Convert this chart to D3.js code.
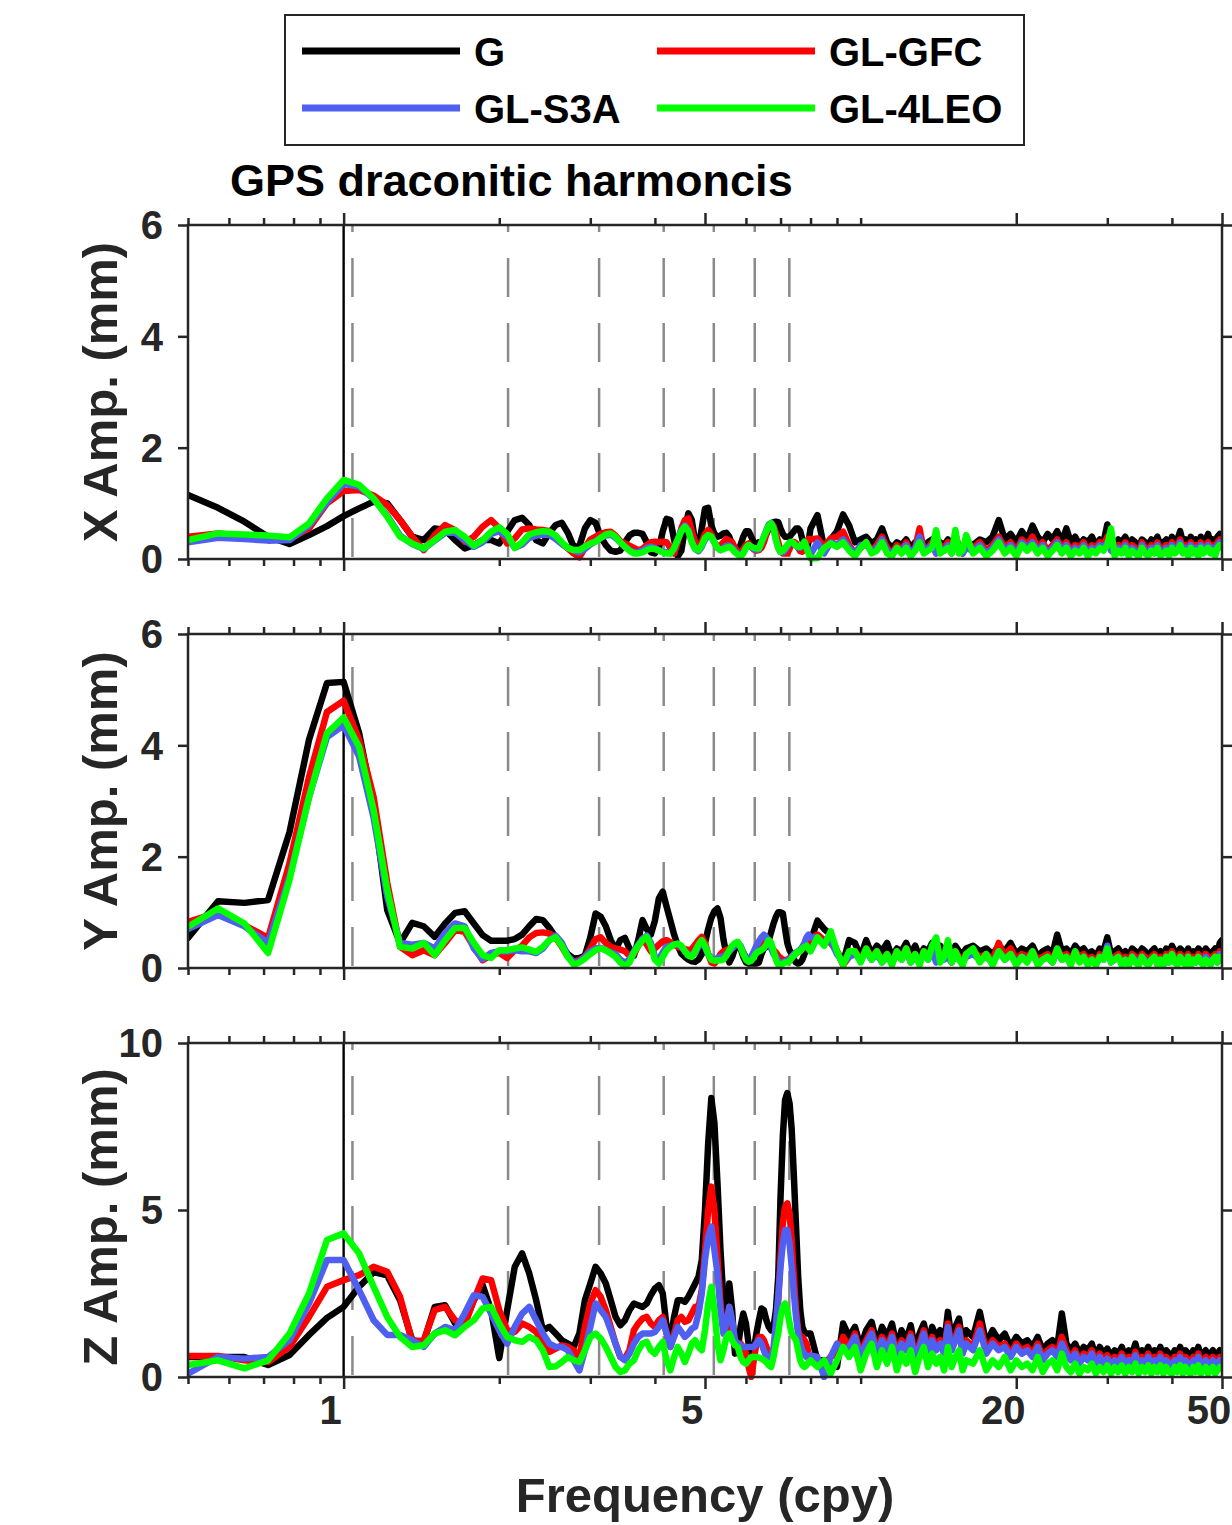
<!DOCTYPE html>
<html>
<head>
<meta charset="utf-8">
<script src="https://cdnjs.cloudflare.com/ajax/libs/d3/7.8.5/d3.min.js"></script>
<style>
  body { margin: 0; background: #fff; }
  text { font-family: "Liberation Sans", Arial, sans-serif; font-weight: bold; }
</style>
</head>
<body>
<div id="chart"></div>
<script>
// frequency grid in cpy: 1/14 cpy steps up to 8 cpy, then 0.25 to 16, then 0.5 to 50
const freqLow = d3.range(7, 113).map(k => k / 14);
const freqHigh = d3.range(8.25, 16.01, 0.25).concat(d3.range(16.5, 50.01, 0.5));
const freq = freqLow.concat(freqHigh);

// GPS draconitic harmonics (cpy)
const draconitic = [1.04, 2.08, 3.12, 4.16, 5.20, 6.24, 7.28];

const seriesNames = ["G", "GL-GFC", "GL-S3A", "GL-4LEO"];
const seriesColors = ["#000000", "#ff0000", "#4f5ff0", "#00ff00"];

const majorTicks = [1, 5, 20, 50];
const minorTicks = [0.5, 0.6, 0.7, 0.8, 0.9, 2, 3, 4, 6, 7, 8, 9, 10, 30, 40];

// ---- X amplitude (mm) ----
const xG = [
  1.15,0.92,0.67,0.4,0.27,0.43,0.59,0.77,0.91,1.03,
  1.0,0.7,0.4,0.34,0.55,0.52,0.34,0.19,0.25,0.34,
  0.34,0.28,0.49,0.7,0.74,0.61,0.34,0.28,0.47,0.61,
  0.65,0.47,0.22,0.23,0.55,0.7,0.65,0.4,0.25,0.15,
  0.13,0.15,0.3,0.42,0.47,0.47,0.45,0.3,0.12,0.1,
  0.2,0.5,0.72,0.7,0.35,0.05,0.15,0.55,0.82,0.7,
  0.3,0.2,0.55,0.9,0.92,0.6,0.45,0.4,0.42,0.46,
  0.47,0.4,0.25,0.15,0.13,0.25,0.4,0.5,0.5,0.4,
  0.3,0.28,0.3,0.3,0.35,0.45,0.55,0.62,0.66,0.67,
  0.66,0.55,0.45,0.4,0.4,0.4,0.45,0.5,0.55,0.55,
  0.5,0.35,0.22,0.16,0.3,0.55,
  0.79,0.2,0.35,0.5,0.8,0.6,0.3,0.35,0.4,0.28,
  0.35,0.55,0.3,0.2,0.3,0.25,0.35,0.2,0.3,0.25,
  0.15,0.3,0.35,0.2,0.3,0.25,0.35,0.2,0.3,0.25,
  0.2,0.3,
  0.25,0.35,0.3,0.4,0.7,0.35,0.45,0.3,0.5,0.35,
  0.6,0.4,0.3,0.45,0.35,0.5,0.3,0.55,0.3,0.4,
  0.25,0.35,0.3,0.4,0.25,0.35,0.3,0.62,0.3,0.25,
  0.35,0.3,0.4,0.25,0.35,0.3,0.2,0.35,0.3,0.25,
  0.35,0.3,0.4,0.25,0.3,0.35,0.25,0.4,0.3,0.35,
  0.5,0.3,0.35,0.25,0.4,0.3,0.35,0.25,0.4,0.3,
  0.35,0.45,0.3,0.35,0.25,0.4,0.45,0.4
];
const xR = [
  0.4,0.46,0.42,0.4,0.36,0.55,1.0,1.22,1.24,1.14,
  0.97,0.7,0.4,0.16,0.43,0.61,0.52,0.31,0.4,0.58,
  0.7,0.55,0.28,0.37,0.53,0.55,0.53,0.52,0.5,0.38,
  0.28,0.19,0.1,0.03,0.2,0.35,0.4,0.45,0.48,0.49,
  0.42,0.32,0.28,0.24,0.2,0.16,0.18,0.25,0.3,0.31,
  0.3,0.31,0.3,0.2,0.1,0.3,0.55,0.7,0.73,0.5,
  0.3,0.22,0.3,0.45,0.52,0.45,0.3,0.22,0.25,0.3,
  0.36,0.33,0.3,0.2,0.12,0.1,0.18,0.25,0.28,0.22,
  0.17,0.15,0.16,0.2,0.3,0.45,0.6,0.64,0.6,0.45,
  0.3,0.15,0.1,0.1,0.1,0.18,0.28,0.31,0.28,0.2,
  0.14,0.13,0.2,0.3,0.36,0.35,
  0.37,0.22,0.37,0.4,0.49,0.25,0.1,0.2,0.3,0.15,
  0.25,0.4,0.2,0.1,0.25,0.15,0.3,0.1,0.2,0.55,
  0.15,0.2,0.3,0.1,0.25,0.2,0.3,0.15,0.45,0.2,
  0.1,0.25,
  0.2,0.3,0.15,0.25,0.4,0.2,0.3,0.15,0.35,0.25,
  0.4,0.2,0.3,0.15,0.25,0.35,0.2,0.3,0.15,0.25,
  0.2,0.3,0.15,0.25,0.2,0.3,0.25,0.4,0.2,0.15,
  0.25,0.2,0.3,0.15,0.25,0.2,0.1,0.3,0.2,0.15,
  0.25,0.2,0.3,0.15,0.2,0.25,0.15,0.3,0.2,0.25,
  0.35,0.2,0.25,0.15,0.3,0.2,0.25,0.15,0.3,0.2,
  0.25,0.3,0.2,0.25,0.15,0.3,0.35,0.3
];
const xB = [
  0.3,0.38,0.36,0.33,0.34,0.6,1.02,1.35,1.3,1.08,
  0.78,0.42,0.27,0.18,0.33,0.47,0.47,0.34,0.22,0.3,
  0.45,0.5,0.4,0.2,0.26,0.38,0.42,0.44,0.43,0.36,
  0.27,0.2,0.15,0.12,0.18,0.26,0.32,0.38,0.42,0.44,
  0.38,0.3,0.22,0.16,0.12,0.12,0.15,0.2,0.22,0.2,
  0.16,0.13,0.12,0.1,0.18,0.35,0.52,0.6,0.52,0.32,
  0.18,0.14,0.22,0.35,0.42,0.4,0.3,0.2,0.16,0.2,
  0.24,0.24,0.2,0.14,0.1,0.06,0.12,0.2,0.25,0.22,
  0.18,0.16,0.18,0.28,0.4,0.52,0.62,0.65,0.55,0.35,
  0.2,0.12,0.12,0.16,0.22,0.28,0.3,0.28,0.24,0.2,
  0.2,0.24,0.3,0.22,0.12,0.08,
  0.3,0.1,0.3,0.25,0.35,0.2,0.1,0.25,0.25,0.15,
  0.2,0.35,0.15,0.1,0.2,0.15,0.25,0.1,0.2,0.4,
  0.15,0.2,0.25,0.1,0.2,0.15,0.25,0.1,0.35,0.15,
  0.1,0.2,
  0.15,0.25,0.1,0.2,0.35,0.15,0.25,0.1,0.3,0.2,
  0.3,0.15,0.25,0.1,0.2,0.3,0.15,0.25,0.1,0.2,
  0.15,0.25,0.1,0.2,0.15,0.25,0.2,0.3,0.15,0.1,
  0.2,0.15,0.25,0.1,0.2,0.15,0.05,0.25,0.15,0.1,
  0.2,0.15,0.25,0.1,0.15,0.2,0.1,0.25,0.15,0.2,
  0.3,0.15,0.2,0.1,0.25,0.15,0.2,0.1,0.25,0.15,
  0.2,0.25,0.15,0.2,0.1,0.25,0.3,0.25
];
const xL = [
  0.34,0.46,0.44,0.42,0.39,0.64,1.09,1.42,1.33,1.09,
  0.76,0.4,0.28,0.19,0.34,0.49,0.52,0.4,0.24,0.34,
  0.49,0.57,0.45,0.2,0.3,0.44,0.48,0.5,0.49,0.42,
  0.3,0.2,0.16,0.16,0.22,0.28,0.31,0.38,0.44,0.46,
  0.4,0.3,0.22,0.15,0.1,0.1,0.12,0.16,0.19,0.18,
  0.15,0.12,0.1,0.1,0.2,0.35,0.5,0.58,0.5,0.3,
  0.18,0.16,0.25,0.38,0.43,0.4,0.3,0.2,0.16,0.18,
  0.2,0.22,0.18,0.12,0.08,0.04,0.1,0.2,0.25,0.22,
  0.2,0.19,0.19,0.3,0.4,0.5,0.6,0.64,0.55,0.35,
  0.2,0.13,0.15,0.2,0.25,0.3,0.31,0.28,0.24,0.22,
  0.22,0.26,0.31,0.2,0.1,0.01,
  0.02,0.2,0.28,0.22,0.3,0.15,0.05,0.2,0.3,0.1,
  0.15,0.3,0.1,0.05,0.2,0.1,0.2,0.05,0.15,0.3,
  0.1,0.15,0.2,0.52,0.1,0.15,0.2,0.1,0.52,0.1,
  0.15,0.43,
  0.1,0.2,0.05,0.15,0.3,0.1,0.2,0.05,0.25,0.15,
  0.25,0.1,0.2,0.05,0.15,0.25,0.1,0.2,0.05,0.15,
  0.1,0.2,0.05,0.15,0.1,0.2,0.15,0.25,0.55,0.05,
  0.15,0.1,0.2,0.05,0.15,0.1,0.05,0.2,0.1,0.05,
  0.15,0.1,0.2,0.05,0.1,0.15,0.05,0.2,0.1,0.15,
  0.25,0.1,0.15,0.05,0.2,0.1,0.15,0.05,0.2,0.1,
  0.15,0.2,0.1,0.15,0.05,0.2,0.25,0.2
];

// ---- Y amplitude (mm) ----
const yG = [
  0.54,1.2,1.17,1.22,2.44,4.1,5.12,5.14,4.22,2.9,
  1.04,0.45,0.81,0.75,0.56,0.8,0.99,1.02,0.8,0.59,
  0.49,0.49,0.49,0.52,0.6,0.75,0.88,0.86,0.72,0.55,
  0.4,0.25,0.17,0.18,0.22,0.55,0.98,0.92,0.75,0.5,
  0.33,0.5,0.54,0.35,0.22,0.5,0.86,0.7,0.6,0.85,
  1.25,1.37,1.1,0.85,0.6,0.4,0.26,0.2,0.15,0.12,
  0.11,0.15,0.25,0.45,0.7,0.9,1.02,1.07,0.9,0.51,
  0.25,0.1,0.2,0.35,0.42,0.35,0.2,0.1,0.08,0.08,
  0.08,0.08,0.1,0.25,0.35,0.38,0.5,0.65,0.8,0.92,
  1.0,1.0,0.98,0.7,0.45,0.32,0.25,0.15,0.1,0.08,
  0.1,0.15,0.25,0.35,0.42,0.48,
  0.85,0.7,0.6,0.3,0.1,0.5,0.45,0.2,0.5,0.25,
  0.4,0.3,0.45,0.2,0.35,0.3,0.45,0.25,0.4,0.2,
  0.35,0.3,0.45,0.25,0.4,0.3,0.35,0.2,0.4,0.3,
  0.25,0.35,
  0.4,0.3,0.35,0.25,0.4,0.3,0.45,0.25,0.35,0.3,
  0.4,0.2,0.3,0.35,0.25,0.6,0.3,0.35,0.25,0.4,
  0.3,0.35,0.25,0.3,0.2,0.35,0.3,0.55,0.25,0.3,
  0.35,0.25,0.3,0.2,0.35,0.3,0.25,0.35,0.3,0.2,
  0.3,0.35,0.25,0.3,0.2,0.35,0.25,0.4,0.3,0.25,
  0.35,0.3,0.25,0.35,0.2,0.3,0.25,0.35,0.3,0.25,
  0.35,0.3,0.25,0.3,0.35,0.25,0.45,0.5
];
const yR = [
  0.83,1.0,0.77,0.54,1.88,3.43,4.6,4.8,4.1,3.07,
  1.53,0.38,0.23,0.32,0.23,0.45,0.68,0.65,0.38,0.14,
  0.23,0.27,0.18,0.32,0.4,0.55,0.63,0.64,0.62,0.55,
  0.38,0.2,0.11,0.14,0.2,0.35,0.52,0.55,0.45,0.38,
  0.35,0.33,0.3,0.22,0.25,0.4,0.53,0.42,0.3,0.35,
  0.42,0.48,0.5,0.46,0.42,0.38,0.36,0.34,0.32,0.34,
  0.42,0.5,0.56,0.45,0.25,0.1,0.08,0.15,0.25,0.3,
  0.32,0.35,0.38,0.41,0.43,0.38,0.28,0.2,0.15,0.18,
  0.28,0.36,0.4,0.45,0.5,0.55,0.5,0.4,0.32,0.28,
  0.22,0.18,0.15,0.14,0.15,0.18,0.2,0.24,0.26,0.3,
  0.33,0.36,0.4,0.43,0.48,0.52,
  0.6,0.5,0.45,0.3,0.05,0.2,0.3,0.15,0.35,0.2,
  0.3,0.15,0.25,0.1,0.3,0.2,0.35,0.15,0.25,0.1,
  0.3,0.2,0.35,0.15,0.3,0.2,0.25,0.1,0.3,0.2,
  0.15,0.25,
  0.3,0.2,0.25,0.15,0.45,0.2,0.35,0.15,0.25,0.2,
  0.3,0.15,0.2,0.25,0.15,0.35,0.2,0.25,0.15,0.3,
  0.2,0.25,0.15,0.2,0.1,0.25,0.2,0.3,0.15,0.2,
  0.25,0.15,0.2,0.1,0.25,0.2,0.15,0.25,0.2,0.1,
  0.2,0.25,0.15,0.2,0.1,0.25,0.15,0.3,0.2,0.15,
  0.25,0.2,0.15,0.25,0.1,0.2,0.15,0.25,0.2,0.15,
  0.25,0.2,0.15,0.2,0.25,0.15,0.3,0.25
];
const yB = [
  0.7,0.95,0.75,0.45,1.64,3.07,4.15,4.36,3.8,2.7,
  1.28,0.45,0.42,0.45,0.35,0.63,0.8,0.75,0.35,0.16,
  0.27,0.3,0.3,0.32,0.3,0.3,0.27,0.35,0.5,0.58,
  0.45,0.22,0.1,0.12,0.2,0.3,0.35,0.36,0.32,0.28,
  0.25,0.15,0.1,0.15,0.3,0.42,0.52,0.58,0.45,0.2,
  0.15,0.28,0.38,0.4,0.42,0.42,0.38,0.3,0.25,0.22,
  0.28,0.38,0.45,0.38,0.25,0.18,0.15,0.18,0.2,0.2,
  0.25,0.3,0.35,0.4,0.45,0.4,0.28,0.18,0.15,0.2,
  0.3,0.4,0.48,0.55,0.6,0.55,0.45,0.35,0.25,0.2,
  0.12,0.1,0.1,0.12,0.14,0.16,0.2,0.25,0.28,0.3,
  0.32,0.38,0.45,0.55,0.6,0.55,
  0.55,0.45,0.5,0.25,0.1,0.2,0.25,0.15,0.3,0.15,
  0.25,0.1,0.2,0.1,0.25,0.15,0.3,0.1,0.2,0.1,
  0.25,0.15,0.3,0.1,0.25,0.15,0.2,0.1,0.25,0.15,
  0.1,0.2,
  0.25,0.15,0.2,0.1,0.3,0.15,0.25,0.1,0.2,0.15,
  0.25,0.1,0.15,0.2,0.1,0.3,0.15,0.2,0.1,0.25,
  0.15,0.2,0.1,0.15,0.05,0.2,0.15,0.4,0.1,0.15,
  0.2,0.1,0.15,0.05,0.2,0.15,0.1,0.2,0.15,0.05,
  0.15,0.2,0.1,0.15,0.05,0.2,0.1,0.25,0.15,0.1,
  0.2,0.15,0.1,0.2,0.05,0.15,0.1,0.2,0.15,0.1,
  0.2,0.15,0.1,0.15,0.2,0.1,0.25,0.2
];
const yL = [
  0.74,1.07,0.8,0.27,1.58,3.07,4.22,4.5,3.97,2.84,
  1.4,0.38,0.35,0.45,0.23,0.5,0.72,0.72,0.45,0.23,
  0.18,0.32,0.32,0.35,0.37,0.33,0.29,0.38,0.5,0.55,
  0.4,0.2,0.06,0.1,0.17,0.25,0.32,0.35,0.32,0.26,
  0.2,0.1,0.03,0.1,0.28,0.4,0.5,0.56,0.4,0.15,
  0.08,0.2,0.32,0.38,0.42,0.44,0.4,0.3,0.22,0.2,
  0.3,0.42,0.5,0.4,0.25,0.15,0.13,0.14,0.14,0.15,
  0.22,0.32,0.4,0.45,0.47,0.38,0.25,0.15,0.11,0.13,
  0.2,0.27,0.3,0.32,0.36,0.42,0.5,0.45,0.3,0.15,
  0.06,0.05,0.08,0.1,0.1,0.12,0.18,0.22,0.26,0.3,
  0.3,0.35,0.38,0.4,0.35,0.3,
  0.55,0.4,0.66,0.3,0.05,0.3,0.3,0.1,0.35,0.15,
  0.3,0.1,0.25,0.05,0.3,0.15,0.35,0.1,0.25,0.05,
  0.3,0.15,0.4,0.55,0.1,0.2,0.5,0.1,0.3,0.15,
  0.05,0.25,
  0.35,0.1,0.25,0.05,0.3,0.15,0.25,0.05,0.2,0.1,
  0.3,0.05,0.15,0.2,0.1,0.35,0.15,0.2,0.05,0.3,
  0.1,0.2,0.05,0.15,0.05,0.2,0.15,0.35,0.1,0.15,
  0.2,0.05,0.15,0.05,0.2,0.1,0.05,0.2,0.1,0.05,
  0.15,0.2,0.05,0.15,0.05,0.2,0.1,0.25,0.1,0.05,
  0.2,0.1,0.05,0.2,0.05,0.15,0.1,0.2,0.1,0.05,
  0.15,0.1,0.05,0.15,0.2,0.1,0.2,0.15
];

// ---- Z amplitude (mm) ----
const zG = [
  0.6,0.6,0.6,0.36,0.66,1.26,1.77,2.1,2.7,3.14,
  3.04,2.3,1.1,1.05,2.1,2.15,1.6,1.6,2.3,2.75,
  2.0,0.57,2.0,3.3,3.7,3.1,2.3,1.4,1.5,1.3,
  1.1,1.0,0.9,1.3,2.3,2.8,3.3,3.1,2.8,2.3,
  1.8,1.55,1.7,2.0,2.2,2.15,2.1,2.2,2.45,2.65,
  2.75,2.5,1.5,1.1,1.8,2.3,2.3,2.25,2.4,2.6,
  2.8,3.0,3.5,5.0,7.0,8.35,7.6,5.8,3.8,2.3,
  1.5,2.8,2.0,0.7,0.8,1.5,1.9,1.6,1.0,0.7,
  0.8,1.3,1.7,2.05,2.0,1.7,1.5,1.4,1.5,2.0,
  3.0,5.4,7.2,8.3,8.5,8.2,7.4,6.0,4.5,3.0,
  2.0,1.5,1.35,1.3,1.3,1.3,
  0.5,0.5,0.35,0.3,1.6,1.2,1.5,0.9,1.4,1.65,
  1.0,1.5,1.2,1.6,0.9,1.4,1.1,1.55,0.8,1.3,
  1.6,1.0,1.5,1.2,1.4,1.0,1.95,1.1,1.5,1.75,
  1.0,1.4,
  1.2,1.95,1.0,1.4,1.1,1.3,0.9,1.2,1.0,1.1,
  0.9,1.2,0.8,1.0,1.1,0.9,1.9,1.0,0.8,1.0,
  0.7,0.9,0.8,1.0,0.6,0.9,0.7,0.85,0.6,0.8,
  0.7,0.9,0.6,0.8,0.7,1.0,0.6,0.8,0.7,0.9,
  0.6,0.8,0.7,0.9,0.6,0.8,0.7,0.6,0.8,0.7,
  0.9,0.6,0.8,0.7,0.6,0.8,0.7,0.9,0.6,0.7,
  0.8,0.6,0.7,0.8,0.6,0.7,0.8,0.75
];
const zR = [
  0.63,0.63,0.5,0.45,0.9,1.8,2.7,2.9,3.05,3.3,
  3.15,2.4,1.05,1.1,2.0,2.1,1.7,1.55,2.3,2.95,
  2.9,2.0,1.4,1.35,1.6,1.5,1.35,1.0,0.75,0.85,
  0.95,0.9,0.8,0.6,1.5,2.2,2.6,2.4,2.0,1.5,
  1.0,0.6,0.55,0.8,1.4,1.6,1.75,1.8,1.6,1.5,
  1.7,1.8,1.3,0.9,1.3,1.7,1.8,1.65,1.7,1.9,
  2.1,2.1,2.6,3.8,5.0,5.7,5.0,3.6,2.2,1.4,
  1.3,2.1,1.6,1.0,1.0,1.0,0.9,0.7,0.3,0.0,
  0.5,1.0,1.2,1.2,1.1,0.9,0.7,0.6,0.7,1.3,
  2.3,3.6,4.6,5.1,5.2,4.9,4.1,3.0,2.0,1.4,
  1.2,1.2,1.1,1.0,0.7,0.5,
  0.5,0.4,0.6,0.7,1.2,0.9,1.3,0.7,1.1,1.4,
  0.8,1.2,0.9,1.3,0.7,1.1,0.9,1.3,0.6,1.0,
  1.4,0.8,1.2,0.9,1.1,0.8,1.6,0.9,1.2,1.5,
  0.8,1.1,
  0.9,1.6,0.8,1.1,0.9,1.0,0.7,1.0,0.8,0.9,
  0.7,1.0,0.6,0.8,0.9,0.7,1.2,0.8,0.6,0.8,
  0.5,0.7,0.6,0.8,0.45,0.7,0.5,0.65,0.45,0.6,
  0.5,0.7,0.45,0.6,0.5,0.75,0.45,0.6,0.5,0.7,
  0.45,0.6,0.5,0.7,0.45,0.6,0.5,0.45,0.6,0.5,
  0.7,0.45,0.6,0.5,0.4,0.6,0.5,0.7,0.45,0.5,
  0.6,0.45,0.5,0.6,0.4,0.5,0.6,0.55
];
const zB = [
  0.1,0.6,0.55,0.6,1.1,2.2,3.5,3.5,2.6,1.7,
  1.26,1.26,1.1,0.9,1.3,1.5,1.4,1.9,2.45,2.4,
  1.9,1.4,1.0,1.5,1.9,2.1,1.7,1.3,1.0,0.9,
  0.9,0.8,0.5,0.2,0.8,1.5,2.2,2.0,1.8,1.4,
  1.0,0.6,0.5,0.7,1.0,1.2,1.3,1.3,1.3,1.35,
  1.5,1.7,1.3,0.9,1.2,1.5,1.35,1.2,1.3,1.45,
  1.5,1.9,2.5,3.5,4.2,4.5,3.8,3.1,2.0,1.3,
  1.6,2.1,1.7,1.1,1.0,0.95,0.9,0.9,0.9,0.9,
  0.9,1.0,1.1,1.0,0.8,0.6,0.6,0.6,0.9,1.6,
  2.4,3.3,4.0,4.4,4.4,4.0,3.3,2.5,1.8,1.3,
  1.0,0.8,0.7,0.6,0.6,0.65,
  0.6,0.0,0.6,1.0,0.8,0.9,1.2,0.6,1.0,1.3,
  0.7,1.1,0.8,1.2,0.6,1.0,0.8,1.2,0.5,0.9,
  1.3,0.7,1.1,0.8,1.0,0.7,1.5,0.8,1.1,1.4,
  0.7,1.0,
  0.8,1.4,0.7,1.0,0.8,0.9,0.6,0.9,0.7,0.8,
  0.6,0.9,0.5,0.7,0.8,0.6,1.0,0.7,0.5,0.7,
  0.4,0.6,0.5,0.7,0.35,0.6,0.4,0.55,0.35,0.5,
  0.4,0.6,0.35,0.5,0.4,0.65,0.35,0.5,0.4,0.6,
  0.35,0.5,0.4,0.6,0.35,0.5,0.4,0.35,0.5,0.4,
  0.6,0.35,0.5,0.4,0.3,0.5,0.4,0.6,0.35,0.4,
  0.5,0.35,0.4,0.5,0.3,0.4,0.5,0.45
];
const zL = [
  0.36,0.5,0.26,0.5,1.3,2.5,4.1,4.3,3.7,2.7,
  1.8,1.2,0.9,0.95,1.3,1.4,1.25,1.5,1.7,2.05,
  2.1,1.6,1.2,1.1,1.05,1.2,1.1,0.8,0.3,0.32,
  0.45,0.6,0.5,0.45,0.8,1.2,1.3,1.15,0.9,0.6,
  0.3,0.15,0.2,0.4,0.5,0.8,1.0,1.05,0.8,0.7,
  0.9,1.05,0.5,0.2,0.6,0.9,0.7,0.45,0.7,1.0,
  1.1,0.9,0.8,1.4,2.2,2.7,2.0,1.0,0.5,0.8,
  1.2,1.3,1.1,0.95,0.9,0.6,0.45,0.4,0.5,0.6,
  0.6,0.6,0.58,0.55,0.5,0.45,0.35,0.3,0.6,1.0,
  1.3,1.8,2.1,2.2,2.0,1.6,1.3,1.2,1.1,0.8,
  0.5,0.35,0.3,0.35,0.45,0.5,
  0.3,0.5,0.1,0.5,0.9,0.6,0.9,0.2,0.7,1.0,
  0.3,0.8,0.4,0.9,0.2,0.7,0.4,0.8,0.15,0.6,
  0.9,0.3,0.7,0.4,0.6,0.2,0.9,0.3,0.6,0.8,
  0.2,0.5,
  0.4,0.8,0.2,0.5,0.3,0.6,0.2,0.5,0.3,0.4,
  0.2,0.6,0.15,0.4,0.5,0.2,0.7,0.3,0.15,0.4,
  0.1,0.3,0.2,0.4,0.1,0.3,0.15,0.35,0.1,0.3,
  0.15,0.35,0.1,0.3,0.15,0.4,0.1,0.3,0.15,0.35,
  0.1,0.3,0.15,0.35,0.1,0.3,0.15,0.1,0.3,0.15,
  0.35,0.1,0.3,0.15,0.1,0.3,0.15,0.35,0.1,0.2,
  0.3,0.1,0.2,0.3,0.1,0.2,0.3,0.25
];

const panels = [
  { label: "X Amp. (mm)", top: 225, yMax: 6, yTicks: [0, 2, 4, 6], series: [xG, xR, xB, xL] },
  { label: "Y Amp. (mm)", top: 634, yMax: 6, yTicks: [0, 2, 4, 6], series: [yG, yR, yB, yL] },
  { label: "Z Amp. (mm)", top: 1043, yMax: 10, yTicks: [0, 5, 10], series: [zG, zR, zB, zL] }
];

const width = 1232, height = 1525;
const plotLeft = 188, plotRight = 1222, plotHeight = 334;
const axisColor = "#262626";

const svg = d3.select("#chart").append("svg")
  .attr("width", width).attr("height", height)
  .style("display", "block");

const x = d3.scaleLog().domain([0.5, 50]).range([plotLeft, plotRight]);

panels.forEach((p, pi) => {
  const bottom = p.top + plotHeight;
  const y = d3.scaleLinear().domain([0, p.yMax]).range([bottom, p.top]);
  const g = svg.append("g");

  g.append("clipPath").attr("id", "clip" + pi)
    .append("rect")
    .attr("x", plotLeft).attr("y", p.top - 3)
    .attr("width", plotRight - plotLeft).attr("height", plotHeight + 6);

  // reference lines: 1 cpy and draconitic harmonics
  g.append("line")
    .attr("x1", x(1)).attr("x2", x(1))
    .attr("y1", bottom).attr("y2", p.top)
    .attr("stroke", "#000").attr("stroke-width", 2.4);

  g.selectAll("line.drac").data(draconitic).enter().append("line")
    .attr("class", "drac")
    .attr("x1", d => x(d)).attr("x2", d => x(d))
    .attr("y1", bottom - 2).attr("y2", p.top)
    .attr("stroke", "#8a8a8a").attr("stroke-width", 2.5)
    .attr("stroke-dasharray", "39,26");

  const line = d3.line()
    .x(d => x(d[0]))
    .y(d => y(d[1]));

  p.series.forEach((vals, si) => {
    const pts = vals.map((v, i) => [freq[i], v]).filter(d => d[0] !== undefined);
    g.append("path")
      .datum(pts)
      .attr("clip-path", "url(#clip" + pi + ")")
      .attr("fill", "none")
      .attr("stroke", seriesColors[si])
      .style("stroke-width", "6.5px")
      .attr("stroke-linejoin", "round")
      .attr("stroke-linecap", "round")
      .attr("d", line);
  });

  // frame
  g.append("rect")
    .attr("x", plotLeft).attr("y", p.top)
    .attr("width", plotRight - plotLeft).attr("height", plotHeight)
    .attr("fill", "none").attr("stroke", axisColor).attr("stroke-width", 2.5);

  const styleAxis = sel => {
    sel.select(".domain").remove();
    sel.selectAll(".tick line").attr("stroke", axisColor).attr("stroke-width", 2.5);
  };

  // x ticks, bottom and top, outward
  g.append("g").attr("transform", `translate(0,${bottom})`)
    .call(d3.axisBottom(x).tickValues(majorTicks).tickSize(12).tickFormat(""))
    .call(styleAxis);
  g.append("g").attr("transform", `translate(0,${bottom})`)
    .call(d3.axisBottom(x).tickValues(minorTicks).tickSize(7).tickFormat(""))
    .call(styleAxis);
  g.append("g").attr("transform", `translate(0,${p.top})`)
    .call(d3.axisTop(x).tickValues(majorTicks).tickSize(12).tickFormat(""))
    .call(styleAxis);
  g.append("g").attr("transform", `translate(0,${p.top})`)
    .call(d3.axisTop(x).tickValues(minorTicks).tickSize(7).tickFormat(""))
    .call(styleAxis);

  // y ticks, left and right, outward
  g.append("g").attr("transform", `translate(${plotLeft},0)`)
    .call(d3.axisLeft(y).tickValues(p.yTicks).tickSize(10).tickFormat(""))
    .call(styleAxis);
  g.append("g").attr("transform", `translate(${plotRight},0)`)
    .call(d3.axisRight(y).tickValues(p.yTicks).tickSize(10).tickFormat(""))
    .call(styleAxis);

  g.selectAll("text.ytick").data(p.yTicks).enter().append("text")
    .attr("class", "ytick")
    .attr("x", plotLeft - 25).attr("y", d => y(d))
    .attr("dy", "0.36em")
    .attr("text-anchor", "end")
    .attr("font-size", 40)
    .attr("fill", axisColor)
    .text(d => d);

  g.append("text")
    .attr("transform", `translate(117,${(p.top + bottom) / 2 + (pi === 2 ? 7 : 0)}) rotate(-90)`)
    .attr("text-anchor", "middle")
    .attr("font-size", 49)
    .attr("fill", axisColor)
    .text(p.label);

  if (pi === panels.length - 1) {
    g.selectAll("text.xtick").data(majorTicks).enter().append("text")
      .attr("class", "xtick")
      .attr("x", d => x(d) - 13).attr("y", bottom + 47)
      .attr("text-anchor", "middle")
      .attr("font-size", 40)
      .attr("fill", axisColor)
      .text(d => d);
    g.append("text")
      .attr("x", (plotLeft + plotRight) / 2).attr("y", 1512)
      .attr("text-anchor", "middle")
      .attr("font-size", 49)
      .attr("fill", axisColor)
      .text("Frequency (cpy)");
  }
});

// title
svg.append("text")
  .attr("x", 230).attr("y", 196)
  .attr("font-size", 45)
  .attr("fill", "#000")
  .text("GPS draconitic harmoncis");

// legend
const legend = svg.append("g");
legend.append("rect")
  .attr("x", 285).attr("y", 15).attr("width", 739).attr("height", 130)
  .attr("fill", "#fff").attr("stroke", axisColor).attr("stroke-width", 2);

const legendPos = [
  { x: 302, y: 51 }, { x: 657, y: 51 },
  { x: 302, y: 108 }, { x: 657, y: 108 }
];
seriesNames.forEach((name, si) => {
  const pos = legendPos[si];
  legend.append("line")
    .attr("x1", pos.x).attr("x2", pos.x + 158)
    .attr("y1", pos.y).attr("y2", pos.y)
    .attr("stroke", seriesColors[si])
    .style("stroke-width", "7px");
  legend.append("text")
    .attr("x", pos.x + 172).attr("y", pos.y + 15)
    .attr("font-size", 40)
    .attr("fill", "#000")
    .text(name);
});
</script>
</body>
</html>
